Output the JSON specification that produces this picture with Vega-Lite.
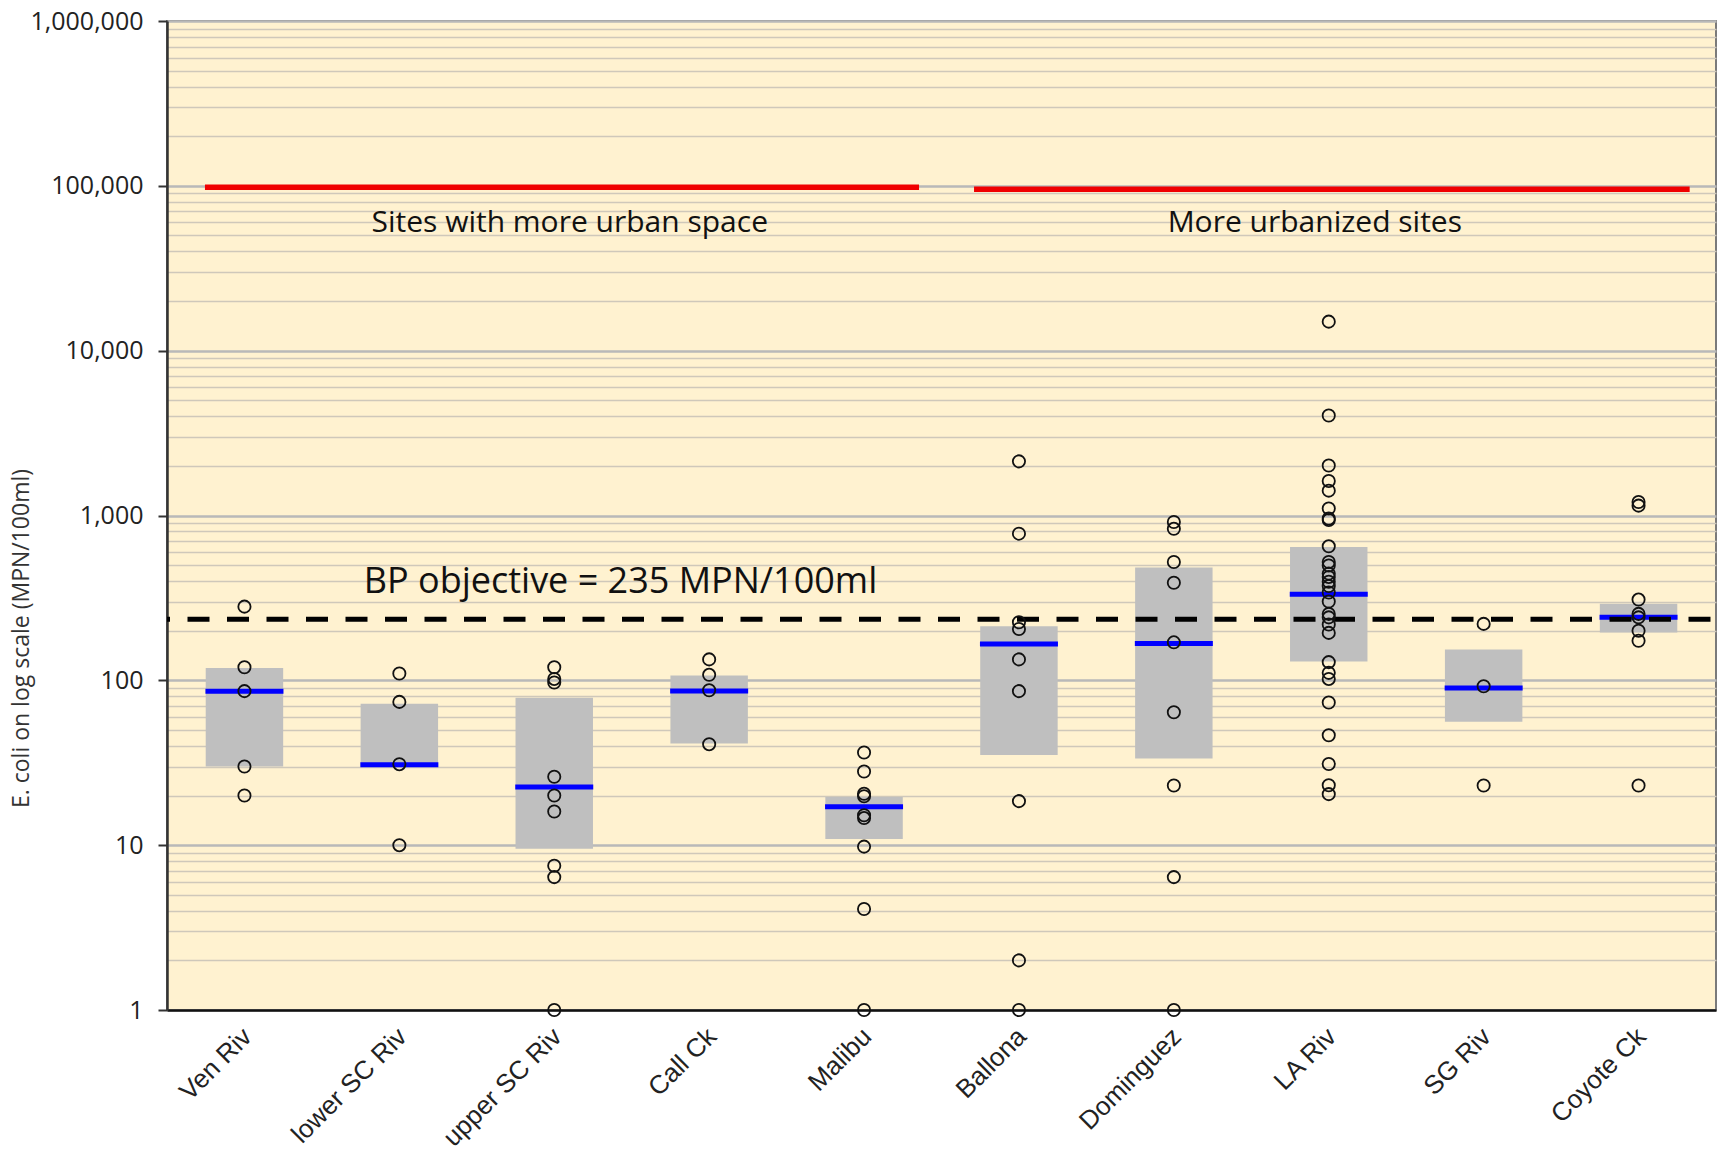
{
  "$schema": "https://vega.github.io/schema/vega-lite/v6.json",
  "width": 1549,
  "height": 989,
  "autosize": {"type": "none"},
  "padding": {"left": 167, "top": 21, "right": 9, "bottom": 143},
  "background": "white",
  "config": {
    "view": {"fill": "#FFF2D0", "stroke": "#7A7A7A", "strokeWidth": 2},
    "font": "Open Sans"
  },
  "datasets": {
    "boxes": [
      {"site": "Ven Riv", "q1": 30, "median": 86, "q3": 119},
      {"site": "lower SC Riv", "q1": 30, "median": 30.8, "q3": 72},
      {"site": "upper SC Riv", "q1": 9.5, "median": 22.5, "q3": 78.5},
      {"site": "Call Ck", "q1": 41.4, "median": 86.2, "q3": 107},
      {"site": "Malibu", "q1": 10.9, "median": 17.1, "q3": 19.6},
      {"site": "Ballona", "q1": 35.3, "median": 166, "q3": 213},
      {"site": "Dominguez", "q1": 33.6, "median": 167, "q3": 484},
      {"site": "LA Riv", "q1": 130, "median": 333, "q3": 644},
      {"site": "SG Riv", "q1": 56, "median": 89.7, "q3": 154},
      {"site": "Coyote Ck", "q1": 195, "median": 241, "q3": 291}
    ],
    "samples": [
      {"site": "Ven Riv", "value": 280}, {"site": "Ven Riv", "value": 120}, {"site": "Ven Riv", "value": 86}, {"site": "Ven Riv", "value": 30}, {"site": "Ven Riv", "value": 20},
      {"site": "lower SC Riv", "value": 110}, {"site": "lower SC Riv", "value": 74}, {"site": "lower SC Riv", "value": 31}, {"site": "lower SC Riv", "value": 10},
      {"site": "upper SC Riv", "value": 120}, {"site": "upper SC Riv", "value": 102}, {"site": "upper SC Riv", "value": 97}, {"site": "upper SC Riv", "value": 26}, {"site": "upper SC Riv", "value": 20}, {"site": "upper SC Riv", "value": 16}, {"site": "upper SC Riv", "value": 7.5}, {"site": "upper SC Riv", "value": 6.4}, {"site": "upper SC Riv", "value": 1},
      {"site": "Call Ck", "value": 134}, {"site": "Call Ck", "value": 108}, {"site": "Call Ck", "value": 87}, {"site": "Call Ck", "value": 41},
      {"site": "Malibu", "value": 36.5}, {"site": "Malibu", "value": 28}, {"site": "Malibu", "value": 20.5}, {"site": "Malibu", "value": 19.8}, {"site": "Malibu", "value": 15.2}, {"site": "Malibu", "value": 14.6}, {"site": "Malibu", "value": 9.8}, {"site": "Malibu", "value": 4.1}, {"site": "Malibu", "value": 1},
      {"site": "Ballona", "value": 2130}, {"site": "Ballona", "value": 776}, {"site": "Ballona", "value": 225}, {"site": "Ballona", "value": 205}, {"site": "Ballona", "value": 134}, {"site": "Ballona", "value": 86}, {"site": "Ballona", "value": 18.5}, {"site": "Ballona", "value": 2}, {"site": "Ballona", "value": 1},
      {"site": "Dominguez", "value": 913}, {"site": "Dominguez", "value": 830}, {"site": "Dominguez", "value": 522}, {"site": "Dominguez", "value": 391}, {"site": "Dominguez", "value": 170}, {"site": "Dominguez", "value": 64}, {"site": "Dominguez", "value": 23}, {"site": "Dominguez", "value": 6.4}, {"site": "Dominguez", "value": 1},
      {"site": "LA Riv", "value": 15000}, {"site": "LA Riv", "value": 4040}, {"site": "LA Riv", "value": 2010}, {"site": "LA Riv", "value": 1620}, {"site": "LA Riv", "value": 1415}, {"site": "LA Riv", "value": 1104}, {"site": "LA Riv", "value": 959}, {"site": "LA Riv", "value": 940}, {"site": "LA Riv", "value": 650}, {"site": "LA Riv", "value": 522}, {"site": "LA Riv", "value": 497}, {"site": "LA Riv", "value": 444}, {"site": "LA Riv", "value": 424}, {"site": "LA Riv", "value": 396}, {"site": "LA Riv", "value": 373}, {"site": "LA Riv", "value": 341}, {"site": "LA Riv", "value": 301}, {"site": "LA Riv", "value": 253}, {"site": "LA Riv", "value": 241}, {"site": "LA Riv", "value": 218}, {"site": "LA Riv", "value": 194}, {"site": "LA Riv", "value": 129}, {"site": "LA Riv", "value": 111}, {"site": "LA Riv", "value": 102}, {"site": "LA Riv", "value": 73.4}, {"site": "LA Riv", "value": 46.4}, {"site": "LA Riv", "value": 31.1}, {"site": "LA Riv", "value": 23.1}, {"site": "LA Riv", "value": 20.4},
      {"site": "SG Riv", "value": 220}, {"site": "SG Riv", "value": 92}, {"site": "SG Riv", "value": 23},
      {"site": "Coyote Ck", "value": 1208}, {"site": "Coyote Ck", "value": 1148}, {"site": "Coyote Ck", "value": 309}, {"site": "Coyote Ck", "value": 253}, {"site": "Coyote Ck", "value": 241}, {"site": "Coyote Ck", "value": 200}, {"site": "Coyote Ck", "value": 174}, {"site": "Coyote Ck", "value": 23}
    ],
    "objective": [{"objective": 235, "label": "BP objective = 235 MPN/100ml", "labelPos": 1.27, "labelLevel": 339}],
    "groups": [
      {"group": "Sites with more urban space", "start": 0.245, "end": 4.855, "center": 2.6, "level": 98000, "labelLevel": 52500},
      {"group": "More urbanized sites", "start": 5.21, "end": 9.83, "center": 7.41, "level": 95300, "labelLevel": 52500}
    ]
  },
  "layer": [
    {
      "layer": [
        {
          "data": {"name": "boxes"},
          "mark": {"type": "bar", "color": "#BFBFBF", "width": {"band": 0.5}},
          "encoding": {
            "x": {
              "field": "site", "type": "nominal", "title": null,
              "sort": ["Ven Riv", "lower SC Riv", "upper SC Riv", "Call Ck", "Malibu", "Ballona", "Dominguez", "LA Riv", "SG Riv", "Coyote Ck"],
              "scale": {"paddingInner": 0, "paddingOuter": 0},
              "axis": {
                "title": null, "labelAngle": -45, "labelAlign": "right", "labelBaseline": "top",
                "labelFont": "Liberation Sans", "labelFontSize": 26, "labelColor": "#222",
                "labelPadding": 13, "labelOffset": -6, "labelLimit": 400, "ticks": false,
                "domainColor": "#111", "domainWidth": 2.5, "grid": false
              }
            },
            "y": {
              "field": "q1", "type": "quantitative", "title": "E. coli on log scale (MPN/100ml)",
              "scale": {"type": "log", "domain": [1, 1000000], "nice": false},
              "axis": {
                "values": [1,2,3,4,5,6,7,8,9,10,20,30,40,50,60,70,80,90,100,200,300,400,500,600,700,800,900,1000,2000,3000,4000,5000,6000,7000,8000,9000,10000,20000,30000,40000,50000,60000,70000,80000,90000,100000,200000,300000,400000,500000,600000,700000,800000,900000,1000000],
                "title": "E. coli on log scale (MPN/100ml)",
                "titleFont": "Open Sans", "titleFontSize": 23, "titleFontWeight": "normal", "titleColor": "#333",
                "titleX": -134, "titleY": 617,
                "labelExpr": "indexof([1,10,100,1000,10000,100000,1000000], datum.value) >= 0 ? format(datum.value, ',') : ''",
                "labelFont": "Open Sans", "labelFontSize": 25, "labelColor": "#222", "labelPadding": 15,
                "labelOverlap": false, "labelBound": false, "labelFlush": false,
                "tickSize": 9, "tickWidth": 2, "tickColor": "#333",
                "tickOpacity": {"condition": {"test": "indexof([1,10,100,1000,10000,100000,1000000], datum.value) >= 0", "value": 1}, "value": 0},
                "domainColor": "#333", "domainWidth": 2.5,
                "grid": true, "gridOpacity": 1,
                "gridColor": {"condition": {"test": "indexof([1,10,100,1000,10000,100000,1000000], datum.value) >= 0", "value": "#B9B9B9"}, "value": "#CFC8BA"},
                "gridWidth": {"condition": {"test": "indexof([1,10,100,1000,10000,100000,1000000], datum.value) >= 0", "value": 2.5}, "value": 1.5}
              }
            },
            "y2": {"field": "q3"}
          }
        },
        {
          "data": {"name": "boxes"},
          "mark": {"type": "tick", "color": "#0000FF", "opacity": 1, "thickness": 5, "size": 78, "orient": "horizontal"},
          "encoding": {
            "x": {"field": "site", "type": "nominal", "title": null, "sort": ["Ven Riv", "lower SC Riv", "upper SC Riv", "Call Ck", "Malibu", "Ballona", "Dominguez", "LA Riv", "SG Riv", "Coyote Ck"]},
            "y": {"field": "median", "type": "quantitative", "title": "E. coli on log scale (MPN/100ml)"}
          }
        },
        {
          "data": {"name": "objective"},
          "mark": {"type": "rule", "color": "#000000", "strokeWidth": 5, "strokeDash": [22, 17.5], "strokeDashOffset": 34},
          "encoding": {
            "y": {"field": "objective", "type": "quantitative", "title": "E. coli on log scale (MPN/100ml)"}
          }
        },
        {
          "data": {"name": "samples"},
          "mark": {"type": "point", "shape": "circle", "filled": false, "stroke": "#111", "strokeWidth": 1.8, "size": 150, "opacity": 1},
          "encoding": {
            "x": {"field": "site", "type": "nominal", "title": null, "sort": ["Ven Riv", "lower SC Riv", "upper SC Riv", "Call Ck", "Malibu", "Ballona", "Dominguez", "LA Riv", "SG Riv", "Coyote Ck"]},
            "y": {"field": "value", "type": "quantitative", "title": "E. coli on log scale (MPN/100ml)"}
          }
        }
      ]
    },
    {
      "layer": [
        {
          "data": {"name": "groups"},
          "mark": {"type": "rule", "color": "#F00000", "strokeWidth": 5.5},
          "encoding": {
            "x": {"field": "start", "type": "quantitative", "scale": {"domain": [0, 10], "nice": false, "zero": false}, "axis": null},
            "x2": {"field": "end"},
            "y": {"field": "level", "type": "quantitative", "title": "E. coli on log scale (MPN/100ml)"}
          }
        },
        {
          "data": {"name": "groups"},
          "mark": {"type": "text", "font": "Open Sans", "fontSize": 30, "color": "#111", "align": "center", "baseline": "alphabetic"},
          "encoding": {
            "x": {"field": "center", "type": "quantitative", "axis": null},
            "y": {"field": "labelLevel", "type": "quantitative", "title": "E. coli on log scale (MPN/100ml)"},
            "text": {"field": "group"}
          }
        },
        {
          "data": {"name": "objective"},
          "mark": {"type": "text", "font": "Open Sans", "fontSize": 36, "color": "#111", "align": "left", "baseline": "alphabetic"},
          "encoding": {
            "x": {"field": "labelPos", "type": "quantitative", "axis": null},
            "y": {"field": "labelLevel", "type": "quantitative", "title": "E. coli on log scale (MPN/100ml)"},
            "text": {"field": "label"}
          }
        }
      ]
    }
  ],
  "resolve": {"scale": {"x": "independent"}}
}
